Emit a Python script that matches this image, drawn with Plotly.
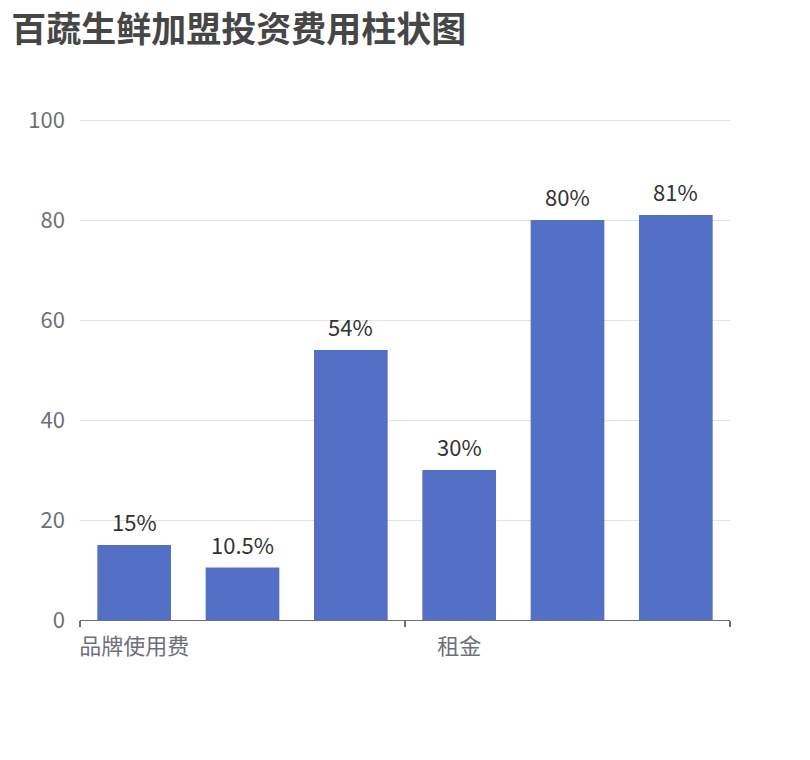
import plotly.graph_objects as go

# 加盟费用项目（只显示部分标签）
categories = ['品牌使用费', '保证金', '装修费', '租金', '设备费', '首批进货费']
values = [15, 10.5, 54, 30, 80, 81]
value_labels = ['15%', '10.5%', '54%', '30%', '80%', '81%']
shown_labels = ['品牌使用费', '租金']
y_ticks = [0, 20, 40, 60, 80, 100]
# category boundaries where the axis ticks sit (every 3 categories)
tick_bounds = [-0.5, 2.5, 5.5]

font_family = 'Noto Sans CJK SC'
axis_color = '#6e7079'

fig = go.Figure()
fig.add_trace(go.Bar(
    x=categories,
    y=values,
    marker=dict(color='#5470c6', line=dict(width=0)),
    width=0.68,
    hoverinfo='x+y',
))
# invisible helper so the boundary-tick axis gets drawn
fig.add_trace(go.Scatter(
    x=tick_bounds, y=[0] * len(tick_bounds),
    xaxis='x2', mode='markers',
    marker=dict(opacity=0), hoverinfo='skip',
))

# bar value labels placed above each bar
for cat, val, lab in zip(categories, values, value_labels):
    fig.add_annotation(
        x=cat, y=val, text=lab, showarrow=False,
        yanchor='bottom', yshift=6,
        font=dict(family=font_family, size=22, color='#333333'),
    )

fig.update_layout(
    width=810,
    height=760,
    margin=dict(l=72, r=88, t=109, b=148),
    paper_bgcolor='white',
    plot_bgcolor='white',
    showlegend=False,
    title=dict(
        text='<b>百蔬生鲜加盟投资费用柱状图</b>',
        x=0.004, xanchor='left', xref='container',
        y=1 - 22 / 760, yanchor='middle', yref='container',
        font=dict(family=font_family, size=35, color='#464646'),
    ),
    xaxis=dict(
        type='category',
        categoryorder='array',
        categoryarray=categories,
        range=[-0.5, len(categories) - 0.5],
        tickvals=shown_labels,
        ticktext=shown_labels,
        ticks='',
        showline=True,
        linecolor=axis_color,
        linewidth=1,
        showgrid=False,
        tickfont=dict(family=font_family, size=22, color=axis_color),
        ticklabelstandoff=7,
    ),
    xaxis2=dict(
        overlaying='x',
        anchor='y',
        side='bottom',
        range=[-0.5, len(categories) - 0.5],
        tickvals=tick_bounds,
        ticks='outside',
        ticklen=6,
        tickwidth=1.5,
        tickcolor=axis_color,
        showticklabels=False,
        showgrid=False,
        showline=False,
        zeroline=False,
    ),
    yaxis=dict(
        range=[0, 100.6],
        tickvals=y_ticks,
        showline=False,
        zeroline=False,
        gridcolor='#dde3ef',
        gridwidth=1.2,
        ticks='',
        ticklabelstandoff=14,
        tickfont=dict(family=font_family, size=22, color=axis_color),
    ),
)

fig.write_html('out.html')
